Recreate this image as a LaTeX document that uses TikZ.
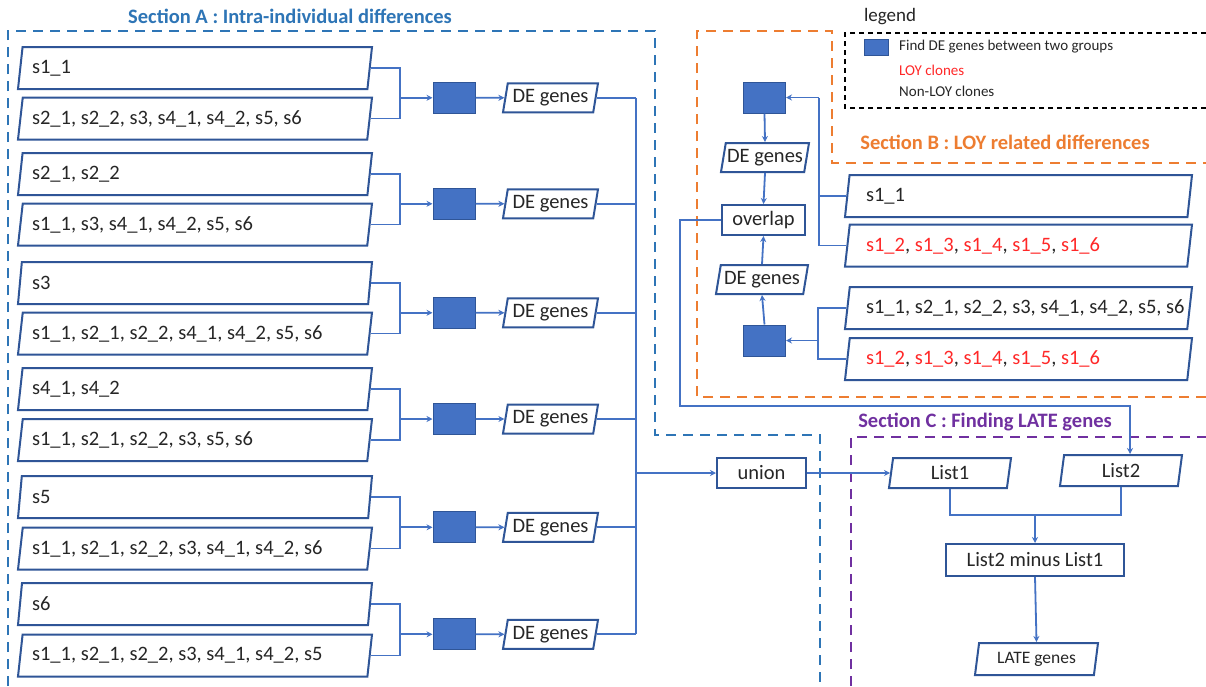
\documentclass[tikz,border=0pt]{standalone}
\usepackage{fontspec}
\setmainfont{Carlito}
\usetikzlibrary{shapes.geometric,arrows.meta}
\definecolor{lnblue}{HTML}{4472C4}
\definecolor{bdblue}{HTML}{2F5597}
\definecolor{secA}{HTML}{2E75B6}
\definecolor{secB}{HTML}{ED7D31}
\definecolor{secC}{HTML}{7030A0}
\definecolor{loyred}{HTML}{FF2828}
\definecolor{txt}{HTML}{262626}
\newcommand{\redt}[1]{\textcolor{loyred}{#1}}
\begin{document}
\begin{tikzpicture}[x=1pt,y=-1pt,
  font=\fontsize{20.5}{24}\selectfont, text=txt,
  para/.style={trapezium, trapezium left angle=74, trapezium right angle=106,
    trapezium stretches body, draw=bdblue, line width=2pt, fill=white,
    inner xsep=0pt, inner ysep=0pt},
  wide/.style={para, minimum width=354, minimum height=42},
  wideb/.style={para, minimum width=347, minimum height=42},
  deg/.style={para, minimum width=95, minimum height=29},
  lst/.style={para, minimum width=122, minimum height=30},
  sq/.style={rectangle, fill=lnblue, draw=bdblue, line width=1pt,
    minimum width=42, minimum height=31, inner sep=0pt},
  rbox/.style={rectangle, draw=bdblue, line width=2pt, fill=white,
    minimum height=30, inner sep=0pt},
  conn/.style={draw=lnblue, line width=1.8pt},
  arr/.style={conn, -{Stealth[length=6pt,width=6pt]}},
  secline/.style={line width=2.5pt, dash pattern=on 10pt off 7pt},
  title/.style={font=\fontsize{20.5}{24}\selectfont\bfseries, inner sep=0pt},
  legtxt/.style={font=\fontsize{15}{18}\selectfont, anchor=west, inner sep=0pt}
]
\fill[white] (0,0) rectangle (1206,686);
\useasboundingbox (0,0) rectangle (1206,686);

% ---------- section frames ----------
\draw[secline, draw=secA] (8,686) -- (8,31) -- (655,31) -- (655,435) -- (820,435) -- (820,686);
\draw[secline, draw=secB] (1206,397) -- (697,397) -- (697,31) -- (832,31) -- (832,163) -- (1206,163);
\draw[secline, draw=secC] (851,686) -- (851,437) -- (1206,437);
\draw[line width=1.3pt, dash pattern=on 5pt off 4pt] (1206,33) -- (845,33) -- (845,108) -- (1206,108);

\node[title, text=secA] (tA) at (290,16) {Section A : Intra-individual differences};
\node[title, text=secB] (tB) at (1005,142) {Section B : LOY related differences};
\node[title, text=secC] (tC) at (985,422) {Section C : Finding LATE genes};

% ---------- legend ----------
\node[inner sep=0pt, font=\fontsize{19}{22}\selectfont] (leg) at (890,17) {legend};
\node[sq, minimum width=24, minimum height=16] (legsq) at (876,47) {};
\node[legtxt] (leg1) at (899,47) {Find DE genes between two groups};
\node[legtxt, text=loyred] (leg2) at (899,70) {LOY clones};
\node[legtxt] (leg3) at (899,91) {Non-LOY clones};

% ---------- section A ----------
\node[wide] (a1) at (195,68) {\makebox[326pt][l]{s1\_1}};
\node[wide] (b1) at (195,118.5) {\makebox[326pt][l]{s2\_1, s2\_2, s3, s4\_1, s4\_2, s5, s6}};
\node[wide] (a2) at (195,174) {\makebox[326pt][l]{s2\_1, s2\_2}};
\node[wide] (b2) at (195,224.5) {\makebox[326pt][l]{s1\_1, s3, s4\_1, s4\_2, s5, s6}};
\node[wide] (a3) at (195,283) {\makebox[326pt][l]{s3}};
\node[wide] (b3) at (195,333.5) {\makebox[326pt][l]{s1\_1, s2\_1, s2\_2, s4\_1, s4\_2, s5, s6}};
\node[wide] (a4) at (195,389) {\makebox[326pt][l]{s4\_1, s4\_2}};
\node[wide] (b4) at (195,440) {\makebox[326pt][l]{s1\_1, s2\_1, s2\_2, s3, s5, s6}};
\node[wide] (a5) at (195,497) {\makebox[326pt][l]{s5}};
\node[wide] (b5) at (195,548.5) {\makebox[326pt][l]{s1\_1, s2\_1, s2\_2, s3, s4\_1, s4\_2, s6}};
\node[wide] (a6) at (195,604) {\makebox[326pt][l]{s6}};
\node[wide] (b6) at (195,655.5) {\makebox[326pt][l]{s1\_1, s2\_1, s2\_2, s3, s4\_1, s4\_2, s5}};

\foreach \i/\y in {1/97.8,2/203.8,3/312.8,4/419,5/527.3,6/634.3}{
  \coordinate (j\i) at (400,\y);
  \node[sq] (q\i) at (454,\y) {};
  \node[deg] (d\i) at (550.5,\y) {DE genes};
}
\coordinate (bt) at (636,97.8);
\coordinate (bb) at (636,634.3);
\foreach \i in {1,...,6}{
  \draw[conn] (a\i.east) -| (j\i) |- (b\i.east);
  \draw[arr] (j\i) -- (q\i.west);
  \draw[arr] (q\i.east) -- (d\i.west);
  \draw[conn] (d\i.east) -- (d\i.east -| bt);
}
\draw[conn] (bt) -- (bb);

% ---------- union ----------
\node[rbox, minimum width=89] (un) at (761.5,473) {union};
\draw[arr] (un.west -| bt) -- (un.west);

% ---------- section B ----------
\node[sq] (qB1) at (764.5,97.5) {};
\node[deg, minimum width=88] (dB1) at (765,157.5) {DE genes};
\node[rbox, minimum width=83] (ov) at (763.5,220) {overlap};
\node[deg, minimum width=92] (dB2) at (762,279.5) {DE genes};
\node[sq] (qB2) at (764.5,340.5) {};

\node[wideb] (c1) at (1018.5,196) {\makebox[305pt][l]{s1\_1}};
\node[wideb] (c2) at (1018.5,245.5) {\makebox[305pt][l]{\redt{s1\_2}, \redt{s1\_3}, \redt{s1\_4}, \redt{s1\_5}, \redt{s1\_6}}};
\node[wideb] (c3) at (1018.5,308) {\makebox[305pt][l]{s1\_1, s2\_1, s2\_2, s3, s4\_1, s4\_2, s5, s6}};
\node[wideb] (c4) at (1018.5,359) {\makebox[305pt][l]{\redt{s1\_2}, \redt{s1\_3}, \redt{s1\_4}, \redt{s1\_5}, \redt{s1\_6}}};

\coordinate (kB1) at (819,97.5);
\coordinate (kB2) at (818,340.5);
\draw[conn] (c2.west) -| (kB1);
\draw[conn] (c1.west) -- (c1.west -| kB1);
\draw[arr] (kB1) -- (qB1.east);
\draw[conn] (c3.west) -| (kB2) |- (c4.west);
\draw[arr] (kB2) -- (qB2.east);

\draw[arr] (qB1.south) -- (dB1.north);
\draw[arr] (dB1.south) -- (ov.north);
\draw[arr] (qB2.north) -- (dB2.south);
\draw[arr] (dB2.north) -- (ov.south);

% ---------- section C ----------
\node[lst] (l1) at (950,473) {List1};
\node[lst, minimum height=31] (l2) at (1121,470.5) {List2};
\node[rbox, minimum width=178, minimum height=32] (mn) at (1035,560) {List2 minus List1};
\node[para, minimum width=123, minimum height=32, font=\fontsize{17.5}{21}\selectfont] (late) at (1036.5,659) {LATE genes};

\coordinate (ovd) at (680,406);
\draw[arr] (ov.west) -| (ovd) -| ([xshift=9pt]l2.north);
\draw[arr] (un.east) -- (l1.west);
\coordinate (mj) at (1035,515);
\draw[conn] (l1.south) |- (mj) -| (l2.south);
\draw[arr] (mj) -- (mn.north);
\draw[arr] (mn.south) -- (late.north);
\end{tikzpicture}
\end{document}
